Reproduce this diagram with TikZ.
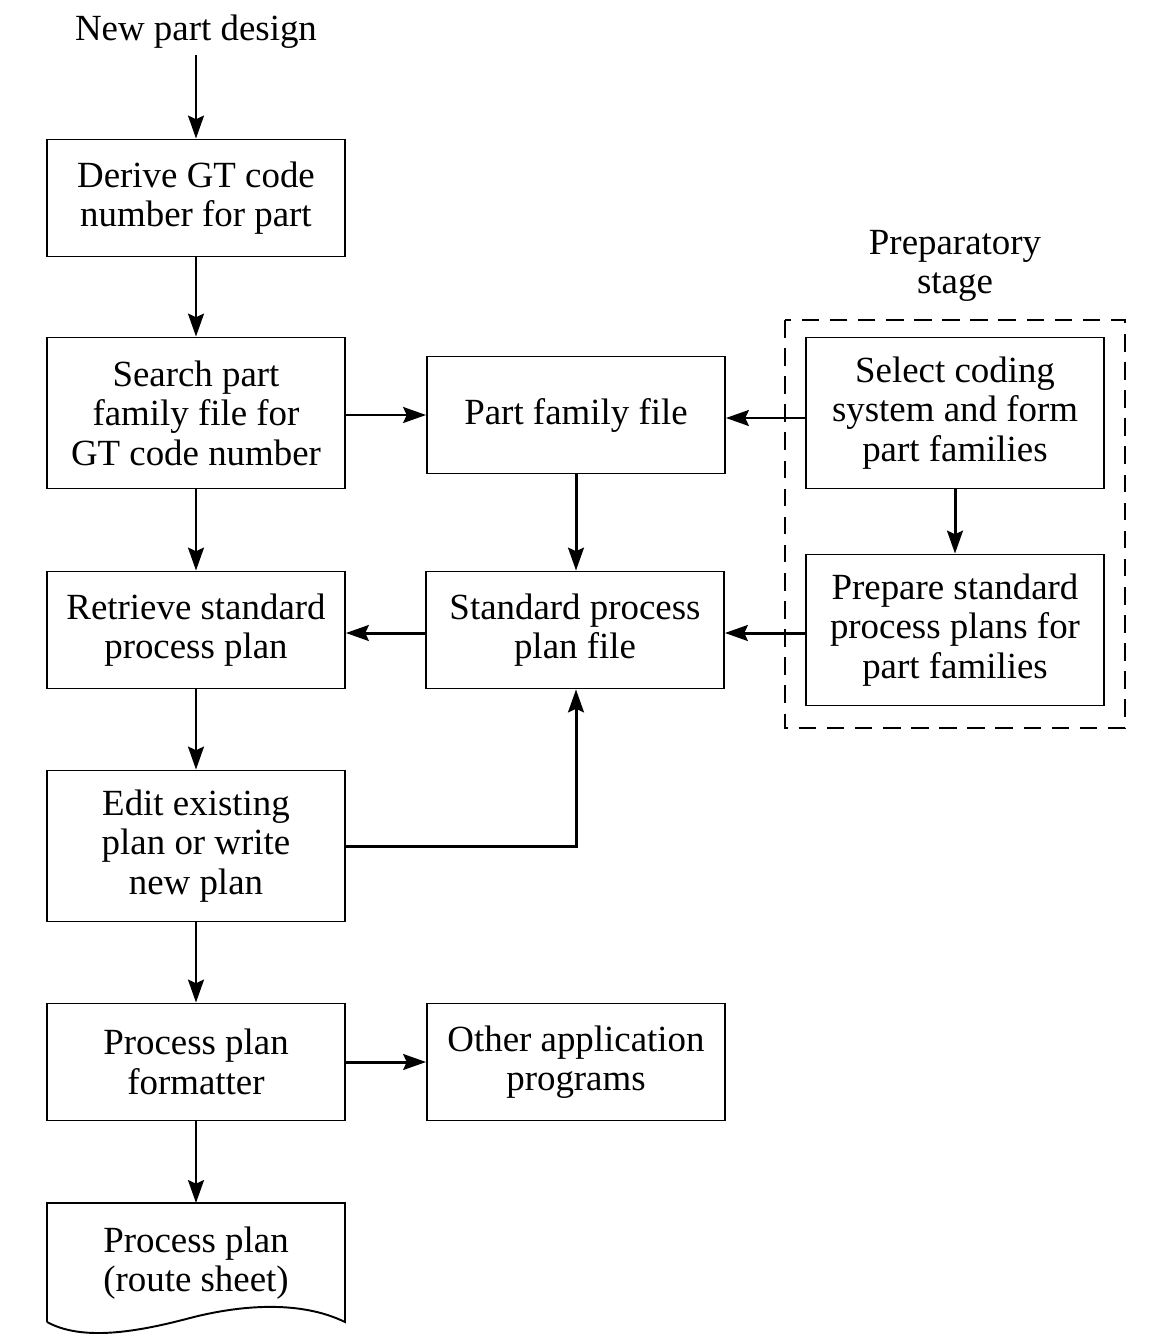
\documentclass[tikz,border=0pt]{standalone}
\usepackage{fontspec}
\setmainfont{Liberation Serif}
\usetikzlibrary{arrows.meta}
\begin{document}
\begin{tikzpicture}[x=0.02cm, y=-0.02cm,
    font=\fontsize{21}{22.5}\selectfont,
    box/.style={draw, line width=1.1pt, minimum width=5.96cm, minimum height=2.34cm, align=center, inner sep=0pt},
    tallbox/.style={box, minimum height=3.02cm},
    flow/.style={line width=1.7pt, -{Stealth[length=13pt, width=9pt, inset=2pt]}}]
    \useasboundingbox (0,0) rectangle (1173,1335);
    % the input text
    \node (design) at (196,32) {New part design};
    % the main column of boxes
    \node[box] (derive) at (196,198) {Derive GT code\\number for part};
    \node[tallbox] (search) at (196,413) {Search part\\family file for\\GT code number};
    \node[box] (retrieve) at (196,630) {Retrieve standard\\process plan};
    \node[tallbox] (edit) at (196,846) {Edit existing\\plan or write\\new plan};
    \node[box] (formatter) at (196,1062) {Process plan\\formatter};
    % the files in the middle
    \node[box] (famfile) at (576,415) {Part family file};
    \node[box] (planfile) at (575,630) {Standard process\\plan file};
    \node[box] (other) at (576,1062) {Other application\\programs};
    % the preparatory stage
    \node[align=center] (prep) at (955,266) {Preparatory\\stage};
    \draw[line width=1.1pt, dash pattern=on 10pt off 6pt] (785,320) rectangle (1125,728);
    \node[tallbox] (select) at (955,413) {Select coding\\system and form\\part families};
    \node[tallbox] (prepare) at (955,630) {Prepare standard\\process plans for\\part families};
    % the route sheet (document shape, drawn by hand)
    \draw[line width=1.1pt] (47,1322) -- (47,1203) -- (345,1203) -- (345,1322)
        .. controls (300,1300) and (240,1305) .. (190,1318)
        .. controls (130,1334) and (80,1340) .. (47,1322);
    \node[align=center] (sheet) at (196,1263) {Process plan\\(route sheet)};
    \coordinate (sheettop) at (196,1203);
    % draw the arrows
    \draw[flow] (design) -- (derive);
    \draw[flow] (derive) -- (search);
    \draw[flow] (search) -- (retrieve);
    \draw[flow] (retrieve) -- (edit);
    \draw[flow] (edit) -- (formatter);
    \draw[flow] (formatter) -- (sheettop);
    \draw[flow] (formatter) -- (other);
    \draw[flow] (search.east |- 0,415) -- (famfile.west |- 0,415);
    \draw[flow] (select.west |- 0,418) -- (famfile.east |- 0,418);
    \draw[flow] (famfile) -- (famfile |- planfile.north);
    \draw[flow] (select) -- (prepare);
    \draw[flow] (prepare.west |- 0,633) -- (planfile.east |- 0,633);
    \draw[flow] (planfile.west |- 0,633) -- (retrieve.east |- 0,633);
    \draw[flow] (edit.east) -| (famfile.south |- planfile.south);
\end{tikzpicture}
\end{document}
